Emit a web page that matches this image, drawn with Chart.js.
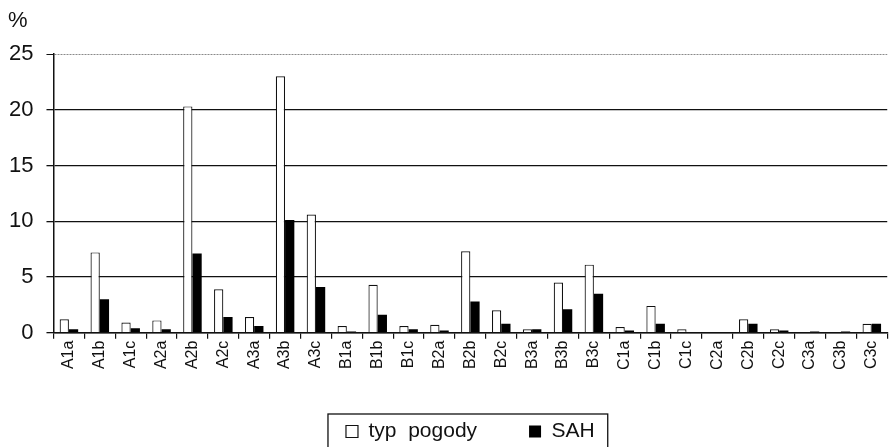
<!DOCTYPE html>
<html>
<head>
<meta charset="utf-8">
<script src="https://cdn.jsdelivr.net/npm/chart.js@4/dist/chart.umd.min.js"></script>
<style>
  body { margin: 0; background: #fff; }
  #wrap { width: 893px; height: 447px; }
</style>
</head>
<body>
<div id="wrap"><canvas id="weatherChart" width="893" height="447"></canvas></div>
<script>
const categories = ['A1a', 'A1b', 'A1c', 'A2a', 'A2b', 'A2c', 'A3a', 'A3b', 'A3c',
  'B1a', 'B1b', 'B1c', 'B2a', 'B2b', 'B2c', 'B3a', 'B3b', 'B3c',
  'C1a', 'C1b', 'C1c', 'C2a', 'C2b', 'C2c', 'C3a', 'C3b', 'C3c'];
const typPogody = [1.2, 7.2, 0.9, 1.1, 20.3, 3.9, 1.4, 23.0, 10.6,
  0.6, 4.3, 0.6, 0.7, 7.3, 2.0, 0.3, 4.5, 6.1,
  0.5, 2.4, 0.3, 0, 1.2, 0.3, 0.05, 0.05, 0.8];
const sah = [0.3, 3.0, 0.4, 0.3, 7.1, 1.4, 0.6, 10.1, 4.1,
  0.1, 1.6, 0.3, 0.2, 2.8, 0.8, 0.3, 2.1, 3.5,
  0.2, 0.8, 0.05, 0, 0.8, 0.2, 0.1, 0.1, 0.8];
const yTicks = [0, 5, 10, 15, 20, 25];

Chart.defaults.font.family = '"Liberation Sans", Arial, sans-serif';
Chart.defaults.color = '#111';

const extras = {
  id: 'extras',
  afterDraw(chart) {
    const c = chart.ctx;
    c.save();
    c.fillStyle = '#111';
    c.font = '22px "Liberation Sans", Arial, sans-serif';
    c.textBaseline = 'top';
    c.fillText('%', 8, 10);
    // frame around the legend
    const boxes = chart.legend.legendHitBoxes;
    if (boxes && boxes.length) {
      const x0 = boxes[0].left - 18;
      const last = boxes[boxes.length - 1];
      const x1 = last.left + last.width + 13;
      const y0 = boxes[0].top - 7;
      c.strokeStyle = '#111';
      c.lineWidth = 1.3;
      c.strokeRect(x0, y0, x1 - x0, 50);
    }
    c.restore();
  }
};

new Chart(document.getElementById('weatherChart'), {
  type: 'bar',
  data: {
    labels: categories,
    datasets: [{
      label: 'typ  pogody',
      data: typPogody,
      backgroundColor: '#fff',
      borderColor: '#111',
      borderWidth: 1.2,
      borderSkipped: 'bottom'
    }, {
      label: 'SAH',
      data: sah,
      backgroundColor: '#000',
      borderColor: '#000',
      borderWidth: 0
    }]
  },
  options: {
    responsive: false,
    animation: false,
    layout: { padding: { top: 54, right: -3, left: -4, bottom: -5 } },
    datasets: { bar: { categoryPercentage: 0.6, barPercentage: 1 } },
    scales: {
      x: {
        afterFit(axis) { axis.height -= 3; },
        grid: { offset: true, drawOnChartArea: false, tickLength: 6, color: '#111', lineWidth: 1.2 },
        border: { color: '#111', width: 1.5 },
        ticks: { minRotation: 90, maxRotation: 90, autoSkip: false, padding: 2, font: { size: 16 }, color: '#111' }
      },
      y: {
        min: 0,
        max: 25,
        afterBuildTicks(axis) { axis.ticks = yTicks.map(v => ({ value: v })); },
        grid: {
          color: ctx => ctx.tick && ctx.tick.value === 25 ? '#8a8a8a' : '#111',
          lineWidth: ctx => ctx.tick && ctx.tick.value === 25 ? 1 : 1.3,
          tickLength: 7,
          tickColor: '#111'
        },
        border: {
          color: '#111',
          width: 1.5,
          dash: ctx => ctx.tick && ctx.tick.value === 25 ? [2, 1] : []
        },
        ticks: { font: { size: 22 }, color: '#111', padding: 13 }
      }
    },
    plugins: {
      tooltip: { enabled: false },
      legend: {
        position: 'bottom',
        fullSize: false,
        labels: {
          boxWidth: 12,
          boxHeight: 12,
          padding: 52,
          font: { size: 21 },
          color: '#111'
        }
      }
    }
  },
  plugins: [extras]
});
</script>
</body>
</html>
